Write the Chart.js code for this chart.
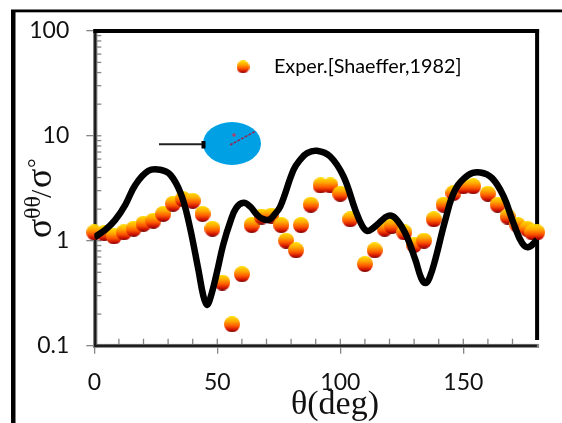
<!DOCTYPE html>
<html>
<head>
<meta charset="utf-8">
<style>html,body{margin:0;padding:0;background:#fff}canvas{display:block}</style>
<script src="https://cdn.jsdelivr.net/npm/chart.js@4/dist/chart.umd.min.js"></script>
</head>
<body>
<canvas id="c" width="562" height="423"></canvas>
<script>
const pointAngles = [0,4,8,12,16,20,24,28,32,36,40,44,48,52,56,60,64,68,72,76,78,82,84,88,92,96,100,104,110,114,118,121,126,130,134,138,142,146,150,154,160,164,168,172,176,178,180];
const pointRatios = [1.2,1.18,1.1,1.2,1.3,1.45,1.55,1.8,2.25,2.5,2.4,1.8,1.3,0.4,0.16,0.48,1.41,1.7,1.73,1.41,1.0,0.81,1.41,2.2,3.36,3.36,2.8,1.6,0.6,0.81,1.3,1.38,1.2,0.91,1.0,1.6,2.2,2.85,3.3,3.3,2.8,2.2,1.7,1.42,1.3,1.2,1.2];
const curveAngles = [0,4.5,8.5,12.6,16.7,22,26.8,30.9,35,38.2,42.3,44.3,45.8,47.2,49.9,52.4,55.3,57.7,60.7,63.4,66.1,68.3,70.9,73.2,75.6,81,83.7,86.5,90.5,95.9,101.3,106.1,108.9,110.9,113,115.6,119.5,122.4,126.4,130.5,132.9,134.6,136.2,138.6,142.7,146.7,152.2,156.9,161.7,166.4,170.4,173.9,176.5,180];
const curveRatios = [1.08,1.27,1.58,2.2,3.41,4.64,4.74,4.25,2.87,1.58,0.53,0.3,0.245,0.286,0.507,0.916,1.52,2.06,2.3,2.11,1.77,1.62,1.58,1.77,2.12,4.74,5.9,6.84,7.2,6.35,4.1,1.97,1.39,1.24,1.3,1.47,1.73,1.64,1.18,0.66,0.44,0.395,0.44,0.66,1.58,3.06,4.25,4.47,3.95,2.64,1.47,0.95,0.87,1.02];
const xTickLabels = [0,50,100,150];
const yTickLabels = [0.1,1,10,100];
const xMinorTicks = [10,20,30,40,60,70,80,90,110,120,130,140,160,170];
const yMinorTicks = [0.2,0.3,0.4,0.5,0.6,0.7,0.8,0.9,2,3,4,5,6,7,8,9,20,30,40,50,60,70,80,90];
const legendName = 'Exper.[Shaeffer,1982]';
const curveName = 'Calculated';
const xTitle = 'θ(deg)';

function ball(d){
  const k=document.createElement('canvas');k.width=d;k.height=d;
  const g=k.getContext('2d');
  const gr=g.createLinearGradient(0,0,0,d);
  gr.addColorStop(0,'#ffe000');gr.addColorStop(0.3,'#ffac00');gr.addColorStop(0.6,'#ff5a00');
  gr.addColorStop(0.85,'#cc1000');gr.addColorStop(1,'#680000');
  g.fillStyle=gr;g.beginPath();g.arc(d/2,d/2,d/2,0,Math.PI*2);g.fill();
  return k;
}
const L=94.3,R=537.1,T=30.7,B=345.7;
const GREY='#858585';
const decor={
  id:'decor',
  beforeDatasetsDraw(c){
    const x=c.scales.x,y=c.scales.y,g=c.ctx;
    g.save();
    // outer frame
    g.fillStyle='#000';
    g.fillRect(11,10,4.5,413);
    g.fillRect(11,9.5,551,2.8);
    // minor ticks
    g.strokeStyle=GREY;g.lineWidth=1.3;
    yMinorTicks.forEach(v=>{const p=y.getPixelForValue(v);g.beginPath();g.moveTo(L,p);g.lineTo(L+7,p);g.stroke();});
    xMinorTicks.forEach(v=>{const p=x.getPixelForValue(v);g.beginPath();g.moveTo(p,B);g.lineTo(p,B-7);g.stroke();});
    // major ticks crossing inward
    yTickLabels.forEach(v=>{const p=y.getPixelForValue(v);g.beginPath();g.moveTo(L,p);g.lineTo(L+7,p);g.stroke();});
    xTickLabels.forEach(v=>{const p=x.getPixelForValue(v);g.beginPath();g.moveTo(p,B);g.lineTo(p,B-7);g.stroke();});
    // axis frame
    g.fillStyle=GREY;
    g.fillRect(L-1.3,T-1.5,4.4,B-T+3.5);
    g.fillRect(L-1.3,B-1.8,R-L+3.3,4);
    g.fillStyle='#1a1a1a';
    g.fillRect(L-0.2,T,2.2,B-T);
    g.fillRect(L-0.2,B-1,R-L,2.2);
    g.fillStyle='#000';
    g.fillRect(L-1,T-1.7,R-L+3,4);
    g.fillRect(R-2,T-1.7,4,B-T-4);
    // inset: incident beam and target
    g.fillStyle='#00a1e4';
    g.beginPath();g.ellipse(232,143.5,29,21.5,0,0,Math.PI*2);g.fill();
    g.strokeStyle='#222';g.lineWidth=2;
    g.beginPath();g.moveTo(159,144.3);g.lineTo(203,144.3);g.stroke();
    g.fillStyle='#000';g.fillRect(201.5,141,4,7.5);
    g.strokeStyle='#8e2a55';g.lineWidth=1.6;g.setLineDash([3,1.2]);
    g.beginPath();g.moveTo(230,145);g.lineTo(256,131);g.stroke();
    g.setLineDash([]);
    g.fillStyle='#a8446c';g.beginPath();g.arc(234,135,1.8,0,Math.PI*2);g.fill();
    // titles
    g.fillStyle='#111';
    g.textBaseline='alphabetic';g.textAlign='center';
    g.font='34px "Liberation Serif"';
    g.fillText(xTitle,335,413.5);
    g.translate(52,0);g.rotate(-Math.PI/2);
    g.textAlign='left';
    g.font='36px "Liberation Serif"';
    g.fillText('σ',-238,-1);
    g.font='24px "Liberation Serif"';
    g.fillText('θθ',-219,-12);
    g.font='30px "Liberation Serif"';
    g.fillText('/',-198,-1);
    g.font='36px "Liberation Serif"';
    g.fillText('σ',-188,-1);
    g.font='24px "Liberation Serif"';
    g.fillText('°',-168,-8);
    g.restore();
  },
  afterLayout(c){
    const l=c.legend;
    if(l){l.left=214;l.right=540;l.top=49;l.bottom=85;}
  }
};
new Chart(document.getElementById('c'),{
  type:'line',
  data:{datasets:[
    {label:curveName,data:curveAngles.map((x,i)=>({x,y:curveRatios[i]})),borderColor:'#000',backgroundColor:'#000',borderWidth:6.5,pointRadius:0,tension:0.4,borderJoinStyle:'round',fill:false},
    {label:legendName,data:pointAngles.map((x,i)=>({x,y:pointRatios[i]})),showLine:false,pointStyle:ball(16),pointRadius:8,pointHoverRadius:8,clip:false}
  ]},
  options:{
    responsive:false,animation:false,
    layout:{padding:{left:0,right:562-R,top:T,bottom:0}},
    plugins:{
      tooltip:{enabled:false},
      legend:{
        display:true,position:'chartArea',align:'start',
        labels:{filter:i=>i.datasetIndex===1,usePointStyle:true,pointStyle:ball(13),pointStyleWidth:42,boxHeight:13,padding:8,color:'#000',font:{family:'Lato',size:19.8}}
      }
    },
    scales:{
      x:{type:'linear',min:0,max:180,
        afterFit(s){s.height=423-B;},
        afterBuildTicks(s){s.ticks=xTickLabels.map(v=>({value:v}));},
        grid:{drawOnChartArea:false,drawTicks:true,tickLength:8,color:GREY,lineWidth:1.3},
        border:{display:false},
        ticks:{padding:15,maxRotation:0,autoSkip:false,color:'#111',font:{family:'Lato',size:23},callback:v=>String(v)}
      },
      y:{type:'logarithmic',min:0.1,max:100,
        afterFit(s){s.width=L;},
        afterBuildTicks(s){s.ticks=yTickLabels.map(v=>({value:v}));},
        grid:{drawOnChartArea:false,drawTicks:true,tickLength:8,color:GREY,lineWidth:1.3},
        border:{display:false},
        ticks:{padding:17,autoSkip:false,color:'#111',font:{family:'Lato',size:23},callback:v=>String(v)}
      }
    }
  },
  plugins:[decor]
});
</script>
</body>
</html>
